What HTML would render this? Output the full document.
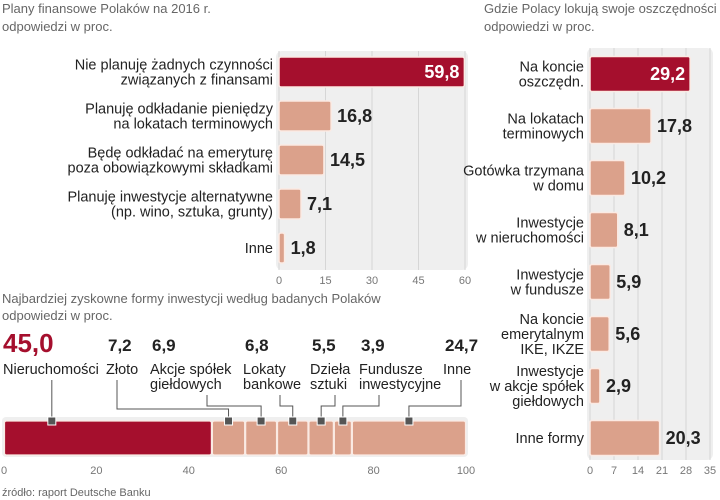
<!DOCTYPE html>
<html><head><meta charset="utf-8">
<style>
body{margin:0;width:720px;height:500px;background:#fff;overflow:hidden;font-family:"Liberation Sans Narrow","Liberation Sans","DejaVu Sans Condensed",sans-serif;}
svg{position:absolute;left:0;top:0}
</style></head><body>
<svg id="s" width="720" height="500" xmlns="http://www.w3.org/2000/svg">
<text x="2" y="13" font-size="13" fill="#666">Plany finansowe Polaków na 2016 r.</text>
<text x="2" y="31" font-size="13" fill="#666">odpowiedzi w proc.</text>
<text x="484" y="13" font-size="13" fill="#666">Gdzie Polacy lokują swoje oszczędności</text>
<text x="484" y="31" font-size="13" fill="#666">odpowiedzi w proc.</text>
<text x="2" y="303" font-size="13" fill="#666">Najbardziej zyskowne formy inwestycji według badanych Polaków</text>
<text x="2" y="320" font-size="13" fill="#666">odpowiedzi w proc.</text>
<text x="2" y="496" font-size="11" fill="#666">źródło: raport Deutsche Banku</text>
</svg>
<script>
const c1Labels=[["Nie planuję żadnych czynności","związanych z finansami"],["Planuję odkładanie pieniędzy","na lokatach terminowych"],["Będę odkładać na emeryturę","poza obowiązkowymi składkami"],["Planuję inwestycje alternatywne","(np. wino, sztuka, grunty)"],["Inne"]];
const c1Values=[59.8,16.8,14.5,7.1,1.8];
const c1Ticks=[0,15,30,45,60];
const c3Labels=[["Na koncie","oszczędn."],["Na lokatach","terminowych"],["Gotówka trzymana","w domu"],["Inwestycje","w nieruchomości"],["Inwestycje","w fundusze"],["Na koncie","emerytalnym","IKE, IKZE"],["Inwestycje","w akcje spółek","giełdowych"],["Inne formy"]];
const c3Values=[29.2,17.8,10.2,8.1,5.9,5.6,2.9,20.3];
const c3Ticks=[0,7,14,21,28,35];
const c2Labels=[["Nieruchomości"],["Złoto"],["Akcje spółek","giełdowych"],["Lokaty","bankowe"],["Dzieła","sztuki"],["Fundusze","inwestycyjne"],["Inne"]];
const c2Values=[45.0,7.2,6.9,6.8,5.5,3.9,24.7];
const c2Ticks=[0,20,40,60,80,100];

const NS="http://www.w3.org/2000/svg",S=document.getElementById('s');
const RED="#a50f2d",SAL="#dba18b";
function el(t,a,txt){const e=document.createElementNS(NS,t);for(const k in a)e.setAttribute(k,a[k]);if(txt!==undefined)e.textContent=txt;S.appendChild(e);return e;}
const fmt=v=>v.toFixed(1).replace('.',',');

function hbar(o){
  const x=v=>o.x0+(v-o.tmin)/(o.tmax-o.tmin)*(o.x1-o.x0);
  const bg=el('rect',{x:o.x0-3,y:o.top,width:o.x1-o.x0+6,height:o.bottom-o.top,rx:6,fill:'#efefef'});
  
  o.ticks.forEach(t=>{
    const g=el('line',{x1:x(t),x2:x(t),y1:o.top,y2:o.bottom,stroke:'#d6d6d6','stroke-width':1});
    
    const tl=el('text',{x:x(t),y:o.bottom+14,'font-size':11,fill:'#777','text-anchor':'middle'},String(t));
    
  });
  o.values.forEach((v,i)=>{
    const yc=o.y0+i*o.step,h=o.bh,w=Math.max(x(v)-o.x0,3);
    const r=el('rect',{x:o.x0,y:yc-h/2,width:w,height:h,rx:2,fill:i==0?RED:SAL,stroke:'#fbeae3','stroke-width':1.5});
    
    const inside=i==0;
    const vt=el('text',{x:inside?x(v)-5:x(v)+6,y:yc+6,'font-size':18,'font-weight':'bold',fill:inside?'#fff':'#222','text-anchor':inside?'end':'start'},fmt(v));
    
    const ls=o.labels[i],lh=15,st=yc-(ls.length-1)*lh/2+5;
    ls.forEach((s,j)=>{
      const t=el('text',{x:o.x0-6,y:st+j*lh,'font-size':14.5,fill:'#222','text-anchor':'end'},s);
      
    });
  });
}
hbar({n:'chart1',x0:279,x1:465,tmin:0,tmax:60,ticks:c1Ticks,values:c1Values,labels:c1Labels,top:51,bottom:270,y0:72,step:44,bh:30});
hbar({n:'chart3',x0:590,x1:710,tmin:0,tmax:35,ticks:c3Ticks,values:c3Values,labels:c3Labels,top:48,bottom:460,y0:74,step:52,bh:35});

const X0=4,X1=466,x2=v=>X0+v/100*(X1-X0);
const bg2=el('rect',{x:2,y:417,width:466,height:40,rx:4,fill:'#efefef'});

c2Ticks.forEach(t=>{
  const tl=el('text',{x:x2(t),y:474,'font-size':11,fill:'#777','text-anchor':'middle'},String(t));
  
});
const lx=[3,106,150,243,310,359,443],elb=[51,117,207,280,335,379,461];
let cum=0;
c2Values.forEach((v,i)=>{
  const a=x2(cum),b=x2(cum+v);cum+=v;
  const r=el('rect',{x:a+0.5,y:421,width:b-a-1,height:34,rx:2,fill:i==0?RED:SAL,stroke:'#fbeae3','stroke-width':1.2});
  
  const m=i==0?a+(b-a)*0.23:(a+b)/2;
  const vt=el('text',{x:lx[i]+(i==0?0:2),y:i==0?352:351,'font-size':i==0?26:17,'font-weight':'bold',fill:i==0?RED:'#222'},fmt(v));
  
  c2Labels[i].forEach((s,j)=>{
    const t=el('text',{x:lx[i],y:374+j*15,'font-size':14.5,fill:'#222'},s);
    
  });
  const yTop=c2Labels[i].length>1?395:380;
  const d=i==0?`M${m},${yTop} V421`:`M${elb[i]},${yTop} V${i==1?409:406} H${m} V421`;
  const p=el('path',{d:d,fill:'none',stroke:'#555','stroke-width':1});
  
  const mk=el('rect',{x:m-4,y:417,width:8,height:8,fill:'#555',stroke:'#fff','stroke-width':1});
  
});
</script>
</body></html>
